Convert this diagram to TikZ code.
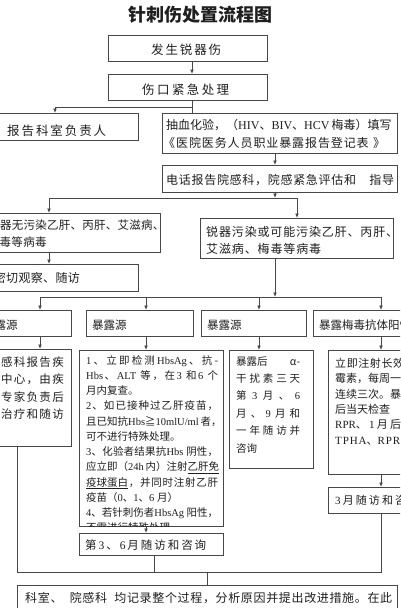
\documentclass[tikz,border=0pt]{standalone}
\usepackage{fontspec}
\setmainfont{Noto Sans CJK SC}
\newfontfamily\ltn{Liberation Serif}
\newfontfamily\ltnw{Liberation Serif}[LetterSpace=8]
\usetikzlibrary{arrows.meta}
\makeatletter
\let\spr@end\relax
\def\spr@endmark{\spr@end}
\def\spr@#1{\def\spr@tmp{#1}\ifx\spr@tmp\spr@endmark\else{#1}\hfil\expandafter\spr@\fi}
\newcommand\sprd[2]{\makebox[#1][s]{\spr@#2\spr@end\unskip}}
\makeatother
\newcommand\bx[5]{\node[box, minimum width={(#4-(#2))*1pt}, minimum height={(#5-(#3))*1pt}] (#1) at (#2,#3) {};}
\newcommand\tlines[6][]{\foreach \tline [count=\tk from 0] in {#6} {\node[txt,#1] (#2\tk) at (#3,{#4+\tk*#5}) {\tline};}}
\begin{document}
\begin{tikzpicture}[x=1pt,y=-1pt,
  box/.style={draw=black!72, line width=0.9pt, inner sep=0pt, anchor=north west, fill=white},
  ln/.style={draw=black!72, line width=0.9pt},
  arr/.style={ln, -{Latex[length=4.5pt,width=3.8pt]}},
  txt/.style={inner sep=0pt, anchor=base west, text=black!88, font=\fontsize{#1}{#1}\selectfont},
  txt/.default=12]
\useasboundingbox (0,0) rectangle (400,608);
\fill[white] (0,0) rectangle (400,608);
\clip (0,0) rectangle (400,608);

% title
\node[txt, anchor=base, font=\fontsize{18}{18}\selectfont\bfseries] (title) at (200,21.8) {针刺伤处置流程图};

% boxes
\bx{b1}{108}{35}{267}{61}
\bx{b2}{108}{74}{267}{100}
\bx{b3}{-10}{113}{138}{140}
\bx{b4}{162}{113}{397}{153}
\bx{b5}{162}{165}{397}{192}
\bx{b6}{-60}{213}{160}{252}
\bx{b7}{-60}{264}{138}{291}
\bx{b8}{200}{218}{393}{258}
\bx{s1}{-23}{310}{71}{336}
\bx{s2}{86}{310}{193}{336}
\bx{s3}{201}{310}{306}{336}
\bx{s4}{313}{310}{440}{336}
\bx{dA}{-80}{349}{71}{446}
\bx{dB}{79}{350}{223}{526}
\bx{dC}{229}{350}{313}{468}
\bx{dD}{328}{350}{440}{474}
\bx{f2}{79}{533}{223}{555}
\bx{f4}{328}{487}{440}{513}
\bx{fin}{17}{585}{397}{640}

% x positions and junctions
\coordinate (xa) at (192,0);
\coordinate (xb) at (275,0);
\coordinate (xl) at (55,0);
\coordinate (x49) at (49,0);
\coordinate (x297) at (297,0);
\coordinate (c1) at (40,0);
\coordinate (c2) at (146,0);
\coordinate (c3) at (259,0);
\coordinate (c4) at (381,0);
\coordinate (x17) at (17,0);
\coordinate (x154) at (154,0);
\coordinate (x207) at (207,0);
\coordinate (j1) at (192,107);
\coordinate (j2) at (275,198);
\coordinate (j3) at (275,297);
\coordinate (j4) at (17,572);

% connectors
\draw[arr] (b1.south -| xa) -- (b2.north -| xa);
\draw[ln] (b2.south -| xa) -- (b4.north -| xa);
\draw[arr] (j1) -| (b3.north -| xl);
\draw[arr] (b4.south -| xb) -- (b5.north -| xb);
\draw[arr] (b5.south -| xb) -- (j2);
\draw[ln] (j2 -| x49) -- (j2 -| x297);
\draw[arr] (j2 -| x49) -- (b6.north -| x49);
\draw[arr] (j2 -| x297) -- (b8.north -| x297);
\draw[arr] (b6.south -| x49) -- (b7.north -| x49);
\draw[arr] (b8.south -| xb) -- (j3);
\draw[ln] (j3 -| c1) -- (j3 -| c4);
\foreach \c/\s/\d in {c1/s1/dA, c2/s2/dB, c3/s3/dC, c4/s4/dD} {
  \draw[arr] (j3 -| \c) -- (\s.north -| \c);
  \draw[arr] (\s.south -| \c) -- (\d.north -| \c);
}
\draw[arr] (dB.south -| c2) -- (f2.north -| c2);
\draw[arr] (dD.south -| c4) -- (f4.north -| c4);
\draw[ln] (dA.south -| x17) -- (j4) -- (j4 -| c4) -- (f4.south -| c4);
\draw[ln] (f2.south -| x154) -- (j4 -| x154);
\draw[ln] (j4 -| x207) -- (fin.north -| x207);

% texts
\node[txt=12.5] (t1) at (151,54.5) {\sprd{70pt}{发生锐器伤}};
\node[txt=12.5] (t2) at (142,94) {\sprd{87pt}{伤口紧急处理}};
\node[txt=12.5] (t3) at (7,135.5) {\sprd{99pt}{报告科室负责人}};
\node[txt=12] (t4a) at (166,129.5) {\sprd{222pt}{抽血化验，（{\ltn HIV}、{\ltn BIV}、{\ltn HCV\ }梅毒）填写}};
\node[txt=12] (t4b) at (163,147.8) {\sprd{222pt}{《医院医务人员职业暴露报告登记表{\ }》}};
\node[txt=12] (t5) at (166,184) {\sprd{228pt}{电话报告院感科，院感紧急评估和　指导}};
\node[txt=11.5] (t6a) at (-11.75,229.4) {\sprd{176pt}{锐器无污染乙肝、丙肝、艾滋病、}};
\node[txt=11.5] (t6b) at (-12.5,246.7) {\sprd{59pt}{梅毒等病毒}};
\node[txt=12] (t7) at (-6.3,282.8) {\sprd{86pt}{密切观察、随访}};
\node[txt=12] (t8a) at (206,236.2) {\sprd{192pt}{锐器污染或可能污染乙肝、丙肝、}};
\node[txt=12] (t8b) at (206,253.5) {\sprd{115pt}{艾滋病、梅毒等病毒}};

\node[txt=11.5] (ts1) at (-17,329.4) {暴露源};
\node[txt=11.5] (ts2) at (92,329.4) {暴露源};
\node[txt=11.5] (ts3) at (207,329.4) {暴露源};
\node[txt=11.5] (ts4) at (319,329.4) {暴露梅毒抗体阳性};

\tlines[txt=11.5, anchor=base east]{tA}{64}{366.4}{17.5}{%
  {\sprd{75.6pt}{院感科报告疾}},
  {\sprd{75.6pt}{控中心，由疾}},
  {\sprd{75.6pt}{控专家负责后}},
  {\sprd{75.6pt}{续治疗和随访}}}

\tlines[txt=10.5]{tB}{86}{364}{15.25}{%
  {\sprd{132pt}{{\ltn 1}、立即检测{\ltn HbsAg}、抗-}},
  {\sprd{132pt}{{\ltn Hbs}、{\ltn ALT\ }等，在{\ltn 3\ }和{\ltn 6\ }个}},
  {月内复查。},
  {\sprd{132pt}{{\ltn 2}、如已接种过乙肝疫苗，}},
  {\sprd{132pt}{且已知抗{\ltn Hbs}≧{\ltn 10mlU/ml\ }者，}},
  {可不进行特殊处理。},
  {\sprd{132pt}{{\ltn 3}、化验者结果抗{\ltn Hbs\ }阴性，}},
  {\sprd{132pt}{应立即（{\ltn 24h\ }内）注射{\underline{乙肝免}}}},
  {\sprd{132pt}{{\underline{疫球蛋白}}，并同时注射乙肝}},
  {疫苗（{\ltn 0}、{\ltn 1}、{\ltn 6\ }月）},
  {\sprd{132pt}{{\ltn 4}、若针刺伤者{\ltn HbsAg\ }阳性，}}}
\begin{scope}
  \clip (79,350) rectangle (223,526);
  \node[txt=10.5] (tB11) at (86,531.75) {不需进行特殊处理};
\end{scope}

\tlines[txt=10.5]{tC}{236}{365}{17.4}{%
  {\makebox[64pt][s]{暴露后\hfil α-}},
  {\sprd{64pt}{干扰素三天}},
  {\sprd{64pt}{第{\ltn 3}月、{\ltn 6}}},
  {\sprd{64pt}{月、{\ltn 9}月和}},
  {\sprd{64pt}{一年随访并}},
  {咨询}}

\tlines[txt=11]{tD}{335}{367.2}{15.4}{%
  {\sprd{80.5pt}{立即注射长效青}},
  {\sprd{86pt}{霉素，每周一次，}},
  {\sprd{75pt}{连续三次。暴露}},
  {后当天检查},
  {\makebox[66pt][s]{{\ltn RPR}、\hfil{\ltn 1}\hfil 月\hfil 后}},
  {{\ltnw TPHA}、{\ltnw RPR}}}

\node[txt=11.5] (tf2) at (85,549.4) {\sprd{121pt}{第{\ltn 3}、{\ltn 6}月随访和咨询}};
\node[txt=11] (tf4) at (335,504.2) {\sprd{84pt}{{\ltn 3}月随访和咨询}};
\node[txt=12] (tfin) at (25,602.8) {\sprd{367pt}{科室、{\hspace{6pt}}院感科{\hspace{6pt}}均记录整个过程，分析原因并提出改进措施。在此}};
\end{tikzpicture}
\end{document}
